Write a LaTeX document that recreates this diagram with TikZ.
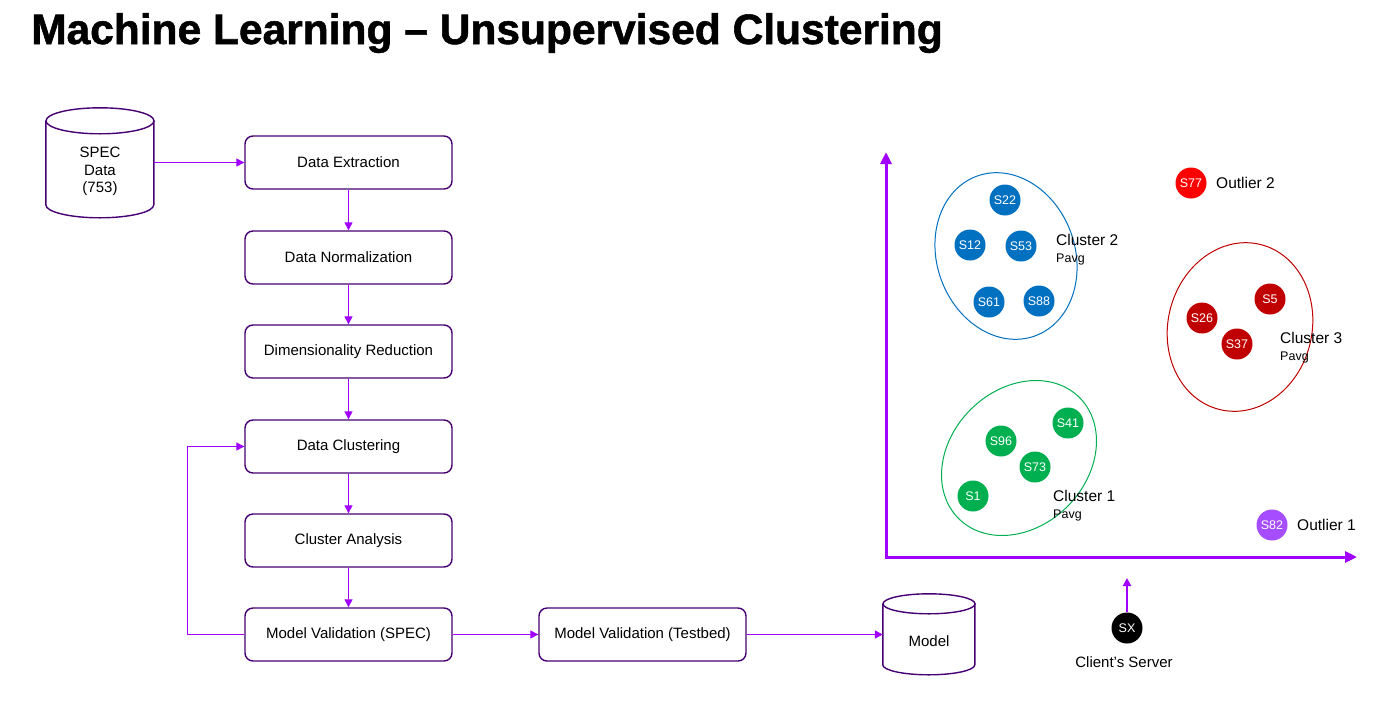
\documentclass[tikz,border=0pt]{standalone}
\usepackage{fontspec}
\setmainfont{Liberation Sans}
\newfontfamily\headingfont{Liberation Sans Bold}[FakeBold=1.3]
\usetikzlibrary{arrows.meta}

\definecolor{boxpurple}{HTML}{460073}
\definecolor{flowpurple}{HTML}{A100FF}
\definecolor{clblue}{HTML}{0070C0}
\definecolor{clgreen}{HTML}{00B050}
\definecolor{cldarkred}{HTML}{C00000}
\definecolor{clred}{HTML}{FF0000}
\definecolor{clviolet}{HTML}{A64DFF}

\tikzset{
  stepbox/.style={draw=boxpurple, line width=1.4pt, rounded corners=8pt,
    minimum width=207pt, minimum height=53pt, inner sep=0pt,
    font=\fontsize{15}{17}\selectfont},
  flow/.style={draw=flowpurple, line width=1.3pt,
    -{Triangle[length=8pt,width=8pt]}},
  axis/.style={draw=flowpurple, line width=3pt,
    -{Triangle[length=12pt,width=11pt]}},
  sample/.style={circle, fill=#1, text=white, minimum size=31pt, inner sep=0pt,
    font=\fontsize{12.5}{13}\selectfont},
  clusterring/.style={draw=#1, line width=1pt},
  lbl/.style={anchor=base west, inner sep=0pt, font=\fontsize{15.5}{18}\selectfont},
  sublbl/.style={anchor=base west, inner sep=0pt, font=\fontsize{12.5}{14}\selectfont},
  dbtext/.style={inner sep=0pt, align=center, font=\fontsize{15}{17.5}\selectfont},
  dbline/.style={draw=boxpurple, line width=1.4pt},
}

\begin{document}
\begin{tikzpicture}[x=1pt, y=1pt]
\useasboundingbox[fill=white] (0,0) rectangle (1384,-705);

% heading
\node[anchor=base west, inner sep=0pt, font=\fontsize{42.5}{48}\headingfont]
  (title) at (31,-44) {Machine Learning – Unsupervised Clustering};

% source database
\node[minimum width=108pt, minimum height=110pt, inner sep=0pt] (spec) at (100,-163) {};
\draw[dbline, fill=white]
  (spec.north west) ++(0,-13) -- ++(0,-84)
  arc[start angle=180, end angle=360, x radius=54, y radius=13]
  -- ++(0,84);
\draw[dbline] (spec.north) ++(0,-13) ellipse[x radius=54, y radius=13];
\node[dbtext] (spectext) at (100,-171.5) {SPEC\\Data\\(753)};

% pipeline steps
\node[stepbox] (ext)  at (348.5,-162.5) {Data Extraction};
\node[stepbox] (norm) at (348.5,-257.5) {Data Normalization};
\node[stepbox] (dim)  at (348.5,-351.5) {Dimensionality Reduction};
\node[stepbox] (clu)  at (348.5,-446.5) {Data Clustering};
\node[stepbox] (ana)  at (348.5,-540.5) {Cluster Analysis};
\node[stepbox] (mvs)  at (348.5,-634.5) {Model Validation (SPEC)};
\node[stepbox] (mvt)  at (642.5,-634.5) {Model Validation (Testbed)};

% model database
\node[minimum width=92pt, minimum height=81pt, inner sep=0pt] (model) at (929,-634.5) {};
\draw[dbline, fill=white]
  (model.north west) ++(0,-10) -- ++(0,-61)
  arc[start angle=180, end angle=360, x radius=46, y radius=10]
  -- ++(0,61);
\draw[dbline] (model.north) ++(0,-10) ellipse[x radius=46, y radius=10];
\node[dbtext] (modeltext) at (929,-641) {Model};

% flow connectors
\draw[flow] (spec.east |- ext.west) -- (ext.west);
\draw[flow] (ext) -- (norm);
\draw[flow] (norm) -- (dim);
\draw[flow] (dim) -- (clu);
\draw[flow] (clu) -- (ana);
\draw[flow] (ana) -- (mvs);
\draw[flow] (mvs.west) -- ++(-57,0) |- (clu.west);
\draw[flow] (mvs) -- (mvt);
\draw[flow] (mvt) -- (model.west);

% scatter axes
\coordinate (origin) at (886,-557);
\coordinate (ytip) at (886,-152);
\coordinate (xtip) at (1357,-557);
\draw[axis] ([xshift=-1.5pt]origin) -- (xtip);
\draw[axis] ([yshift=-1.5pt]origin) -- (ytip);

% cluster outlines
\draw[clusterring=clblue] (1006,-256) ellipse[x radius=69, y radius=85, rotate=20];
\draw[clusterring=cldarkred] (1240,-327) ellipse[x radius=72, y radius=85, rotate=-14];
\draw[clusterring=clgreen] (1019,-458) ellipse[x radius=68.5, y radius=85.5, rotate=-45];

% cluster 2
\node[sample=clblue] (s22) at (1005,-200) {S22};
\node[sample=clblue] (s12) at (970,-245) {S12};
\node[sample=clblue] (s53) at (1021,-246) {S53};
\node[sample=clblue] (s61) at (989,-302) {S61};
\node[sample=clblue] (s88) at (1039,-301) {S88};
\node[lbl] (c2) at (1056,-245) {Cluster 2};
\node[sublbl] (c2p) at (1056,-262) {Pavg};

% cluster 3
\node[sample=cldarkred] (s5)  at (1270,-299) {S5};
\node[sample=cldarkred] (s26) at (1202,-318) {S26};
\node[sample=cldarkred] (s37) at (1237,-344) {S37};
\node[lbl] (c3) at (1280,-343) {Cluster 3};
\node[sublbl] (c3p) at (1280,-360) {Pavg};

% cluster 1
\node[sample=clgreen] (s41) at (1068,-423) {S41};
\node[sample=clgreen] (s96) at (1001,-441) {S96};
\node[sample=clgreen] (s73) at (1035,-467) {S73};
\node[sample=clgreen] (s1)  at (973,-496) {S1};
\node[lbl] (c1) at (1053,-501) {Cluster 1};
\node[sublbl] (c1p) at (1053,-518) {Pavg};

% outliers
\node[sample=clred] (s77) at (1191,-183) {S77};
\node[lbl, anchor=west] (o2) at (1216,-183) {Outlier 2};
\node[sample=clviolet] (s82) at (1272,-525) {S82};
\node[lbl, anchor=west] (o1) at (1297,-525) {Outlier 1};

% incoming client server
\node[sample=black] (sx) at (1127,-628) {SX};
\coordinate (sxtip) at (1127,-578);
\draw[draw=flowpurple, line width=2.2pt, -{Triangle[length=8pt,width=8pt]}] (sx.north) -- (sxtip);
\node[inner sep=0pt, anchor=base, font=\fontsize{15}{17}\selectfont] (client) at (1124,-667) {Client’s Server};
\end{tikzpicture}
\end{document}
